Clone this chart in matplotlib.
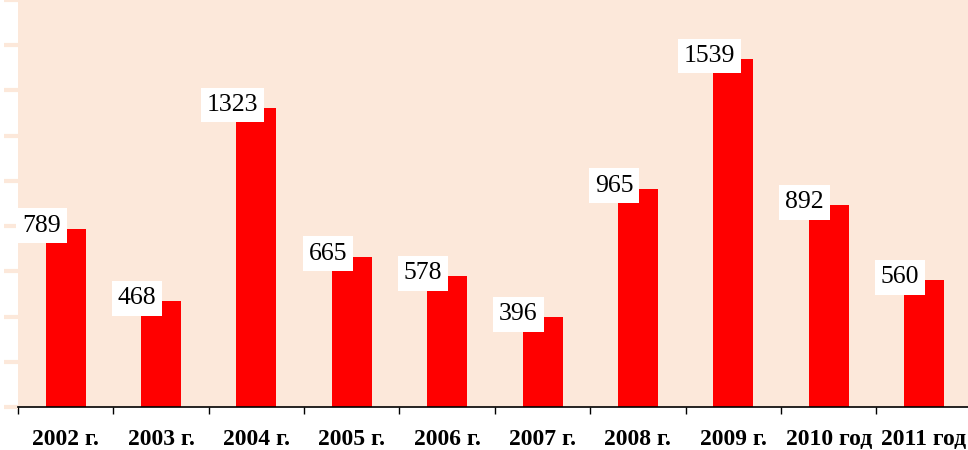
import matplotlib
matplotlib.use("Agg")
import matplotlib.pyplot as plt
from matplotlib.path import Path
import numpy as np

categories = ["2002 г.", "2003 г.", "2004 г.", "2005 г.", "2006 г.", "2007 г.",
              "2008 г.", "2009 г.", "2010 год", "2011 год"]
values = [789, 468, 1323, 665, 578, 396, 965, 1539, 892, 560]

W, H, DPI = 968, 450, 100
fig = plt.figure(figsize=(W / DPI, H / DPI), dpi=DPI, facecolor="white")
left_px, bottom_px, right_px, top_px = 18, 407, 971.7, 0
ax = fig.add_axes([left_px / W, (H - bottom_px) / H, (right_px - left_px) / W, (bottom_px - top_px) / H])
peach = "#FCE8DA"
ax.set_facecolor(peach)

x = np.arange(len(categories))
ax.bar(x, values, width=0.42, color="#FF0000", zorder=2)
ax.set_xlim(-0.5, len(categories) - 0.5)
ax.set_ylim(0, 1800)

ax.set_xticks(np.arange(len(categories) + 1) - 0.5, minor=False)
ax.set_xticklabels([])
ax.set_xticks(x, minor=True)
ax.set_xticklabels(categories, minor=True, fontfamily="Liberation Serif",
                   fontweight="bold", fontsize=17)
ax.tick_params(axis="x", which="major", length=5, width=1, color="black", direction="out")
ax.tick_params(axis="x", which="minor", length=0, pad=16)

ax.set_yticks(np.arange(0, 1801, 200))
ax.set_yticklabels([])
ax.tick_params(axis="y", length=10, width=3, color=peach, direction="out")

for s in ["top", "right", "left"]:
    ax.spines[s].set_visible(False)
ax.spines["bottom"].set_color("black")
ax.spines["bottom"].set_linewidth(1.2)


def label_box(x0, y0, width, height, mutation_size):
    padx = 6.0
    cy = y0 + height / 2
    hh = 34.7 / 2
    return Path([(x0 - padx, cy - hh), (x0 + width + padx, cy - hh),
                 (x0 + width + padx, cy + hh), (x0 - padx, cy + hh),
                 (x0 - padx, cy - hh)], closed=True)


for xi, v in zip(x, values):
    ax.annotate(str(v), xy=(xi, v), xytext=(-24, 3), textcoords="offset pixels",
                ha="center", va="center", fontfamily="Liberation Serif", fontsize=18.5,
                bbox=dict(boxstyle=label_box, facecolor="white", edgecolor="none"),
                zorder=3)

fig.savefig("out.png", dpi=DPI, facecolor="white")
